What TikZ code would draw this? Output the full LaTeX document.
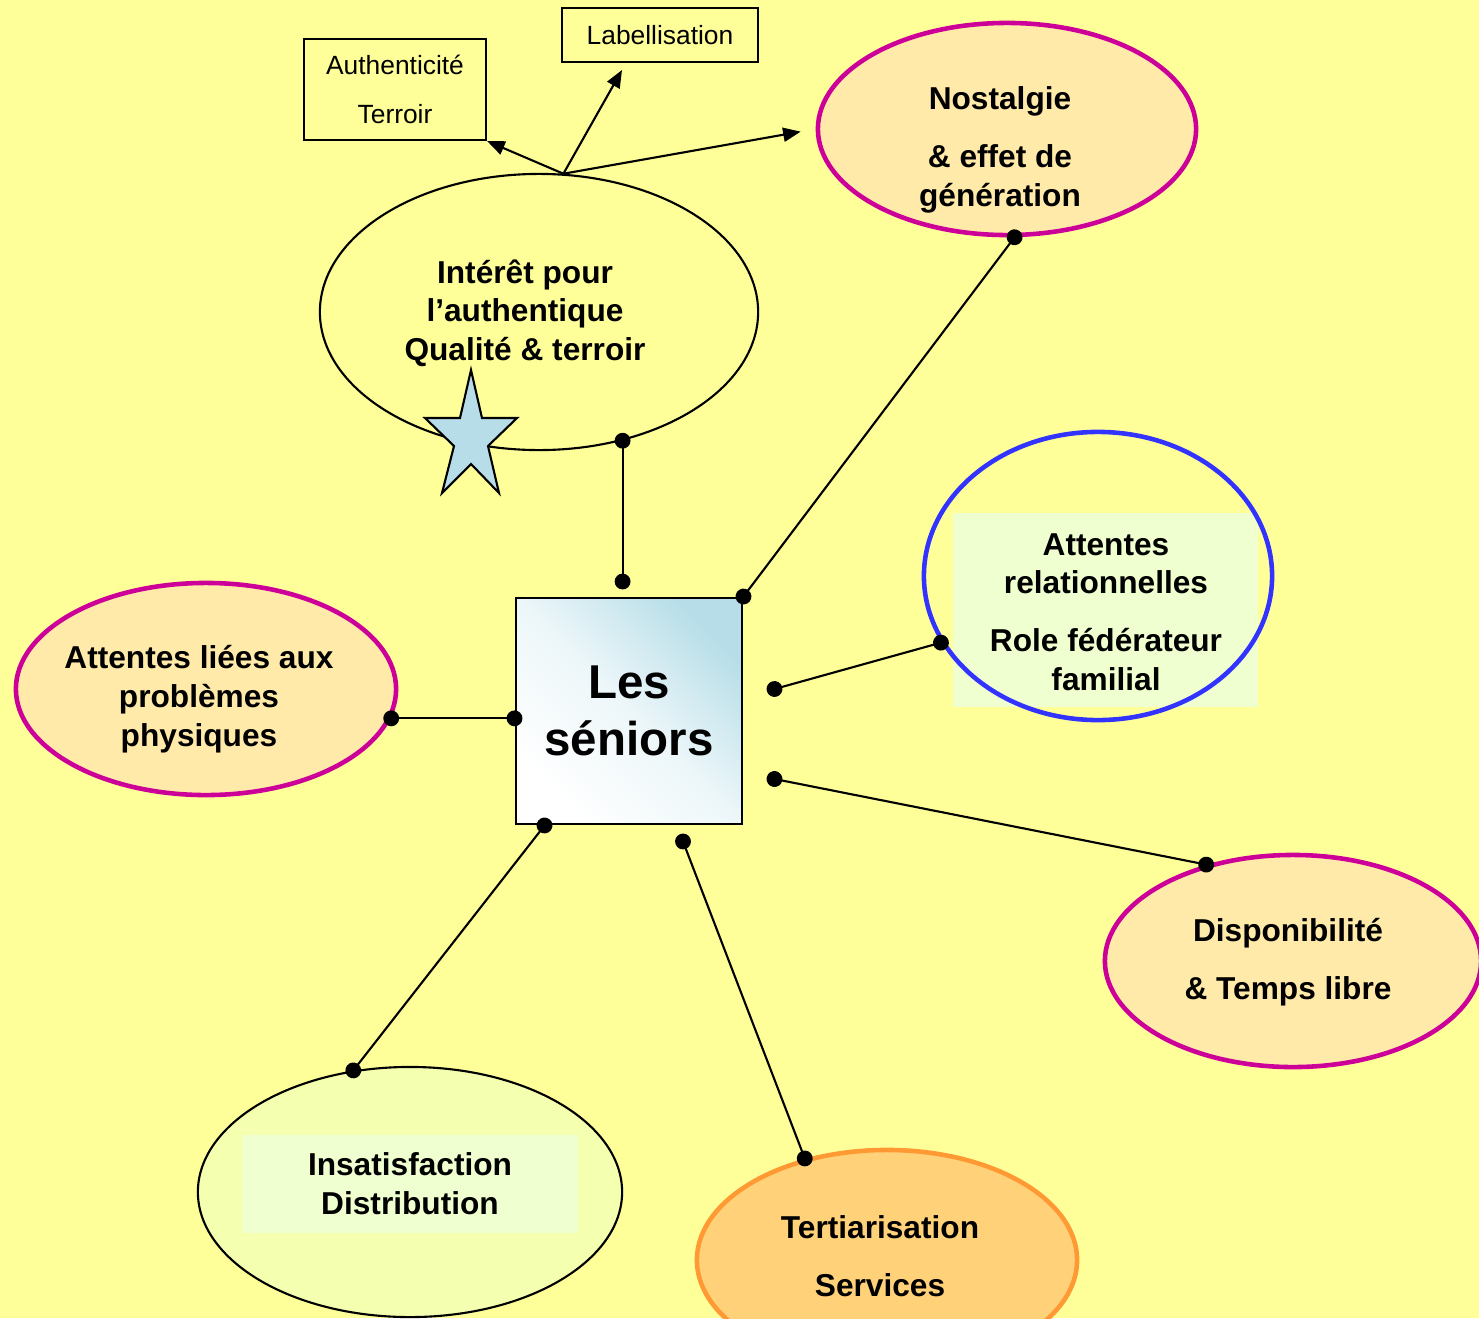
\documentclass[tikz,border=0pt]{standalone}
\usepackage{fontspec}
\setmainfont{Liberation Sans}
\usetikzlibrary{shapes.geometric,arrows.meta,calc}

\definecolor{fond}{HTML}{FFFF99}
\definecolor{magenta2}{HTML}{CC0099}
\definecolor{bleu}{HTML}{3333FF}
\definecolor{orange2}{HTML}{FF9933}
\definecolor{peche}{HTML}{FFEAAA}
\definecolor{abricot}{HTML}{FFD27A}
\definecolor{menthe}{HTML}{F0FFCF}
\definecolor{anis}{HTML}{F4FFB0}
\definecolor{ciel}{HTML}{B7DEE8}

\tikzset{
	bulle/.style={ellipse, inner sep=0pt, line width=1.3pt},
	texte/.style={font=\bfseries\fontsize{9}{11}\selectfont, align=center},
	cadre/.style={draw, line width=0.6pt, inner sep=0pt, font=\fontsize{7.5}{13.7}\selectfont, align=center},
	lien/.style={line width=0.6pt, {Circle[length=4.5pt]}-{Circle[length=4.5pt]}, shorten <=-2.25pt, shorten >=-2.25pt},
	fleche/.style={line width=0.6pt, -{Triangle[length=5pt,width=4pt]}},
}

\begin{document}
\begin{tikzpicture}[x=0.01cm,y=-0.01cm]
	\fill[fond] (0,0) rectangle (1479,1318);
	\useasboundingbox (0,0) rectangle (1479,1318);

	% les bulles
	\node[bulle, draw=black, line width=0.6pt, minimum width=4.38cm, minimum height=2.76cm] (int) at (539,312) {};
	\node[bulle, draw=magenta2, fill=peche, minimum width=3.78cm, minimum height=2.12cm] (nost) at (1007,129) {};
	\fill[menthe] (953,513) rectangle (1258,707);
	\node[bulle, draw=bleu, minimum width=3.48cm, minimum height=2.88cm] (rel) at (1098,576) {};
	\node[bulle, draw=magenta2, fill=peche, minimum width=3.80cm, minimum height=2.12cm] (lie) at (206,689) {};
	\node[bulle, draw=magenta2, fill=peche, minimum width=3.76cm, minimum height=2.12cm] (dispo) at (1293,961) {};
	\node[bulle, draw=black, line width=0.6pt, fill=anis, minimum width=4.24cm, minimum height=2.50cm] (insat) at (410,1192) {};
	\fill[menthe] (243,1135) rectangle (578,1233);
	\node[bulle, draw=orange2, fill=abricot, minimum width=3.80cm, minimum height=2.20cm] (tert) at (887,1260) {};

	\node[texte] (int-t) at (525,313) {Intérêt pour\\l’authentique\\Qualité \& terroir};
	\node[texte] (nost-t) at (1000,150) {Nostalgie\\[5.5pt]\& effet de\\génération};
	\node[texte] (rel-t) at (1106,612) {Attentes\\relationnelles\\[5.5pt]Role fédérateur\\familial};
	\node[texte] (lie-t) at (199,699) {Attentes liées aux\\problèmes\\physiques};
	\node[texte] (dispo-t) at (1288,962) {Disponibilité\\[5.5pt]\& Temps libre};
	\node[texte] (insat-t) at (410,1184) {Insatisfaction\\Distribution};
	\node[texte] (tert-t) at (880,1256) {Tertiarisation\\[5.5pt]Services};

	% etoile
	\filldraw[fill=ciel, line width=0.6pt] (471,370) -- (482,418) -- (517,418) -- (488,446) -- (499,493)
		-- (471,464) -- (442,493) -- (454,446) -- (425,418) -- (460,418) -- cycle;

	% le centre
	\node[draw, line width=0.8pt, minimum width=2.26cm, minimum height=2.26cm,
		top color=ciel, bottom color=white, middle color=ciel!25, shading angle=-45,
		font=\bfseries\fontsize{13.5}{16}\selectfont, align=center] (sen) at (629,711) {Les\\séniors};

	\node[cadre, minimum width=1.82cm, minimum height=1.01cm] (auth) at (395,89.5) {Authenticité\\Terroir};
	\node[cadre, minimum width=1.96cm, minimum height=0.54cm] (lab) at (660,35) {Labellisation};
	\coordinate (lab-pt) at (622,70);

	\draw[fleche] (int.80) -- (auth.south east);
	\draw[fleche] (int.80) -- (lab-pt);
	\draw[fleche, shorten >=4.3pt] (int.80) -- (nost.west);

	% liens vers les seniors
	\coordinate (sen-haut) at ($(sen.north)+(-7,-15)$);
	\draw[lien] (int.-57) -- (int.-57 |- sen-haut);
	\draw[lien] (nost.-86) -- (sen.north east);
	\draw[lien] (rel.203) -- ($(sen.east)+(31,-22)$);
	\draw[lien] (lie.-9) -- (lie.-9 -| sen.west);
	\draw[lien] (dispo.132) -- ($(sen.east)+(31,68)$);
	\draw[lien] (tert.129) -- ($(sen.south)+(54,16)$);
	\draw[lien] (insat.115) -- ($(sen.south west)+(30,0)$);
\end{tikzpicture}
\end{document}
